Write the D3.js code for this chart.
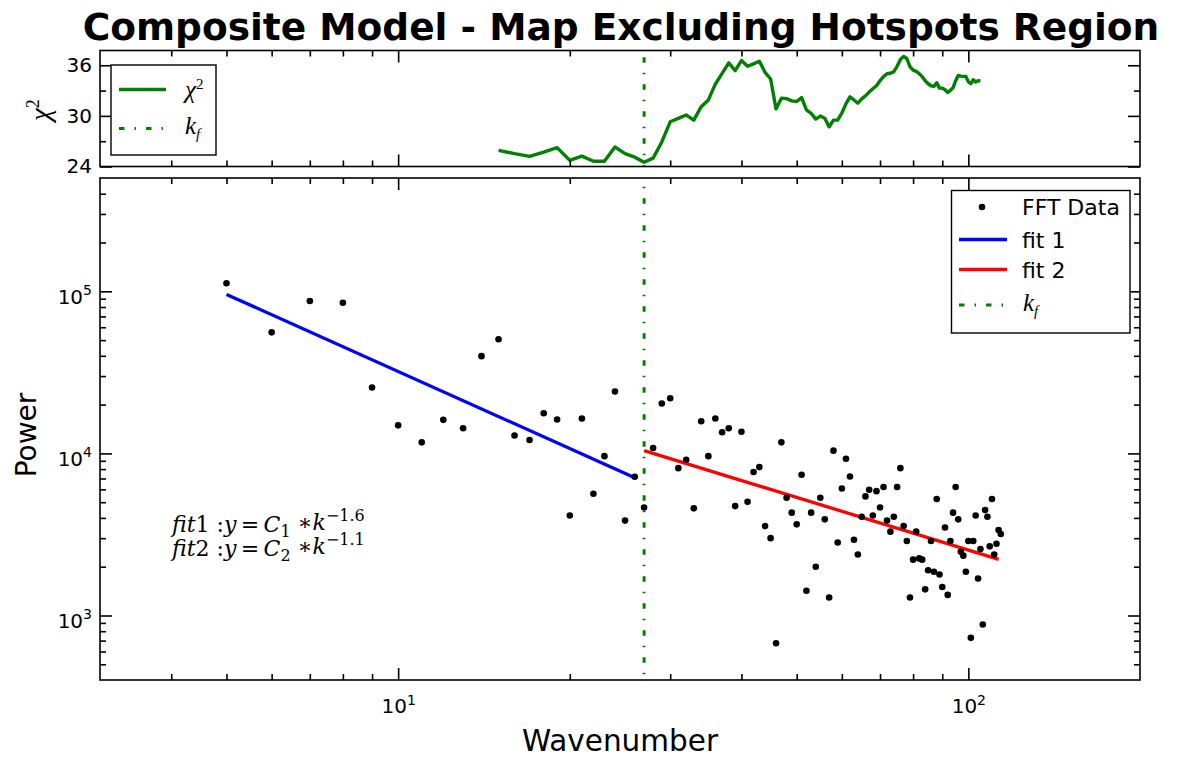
<!DOCTYPE html>
<html><head><meta charset="utf-8">
<script src="https://cdn.jsdelivr.net/npm/d3@7"></script>
<style>
body{margin:0;background:#fff}
svg{display:block}
text{font-family:"DejaVu Sans",sans-serif;fill:#000}
.serif{font-family:"Liberation Serif","DejaVu Serif",serif}
.dserif{font-family:"DejaVu Serif",serif}
</style>
</head><body>
<svg id="chart" width="1179" height="759"></svg>
<script>
// ---------------- data ----------------
const wavenumber = [5,6,7,8,9,10,11,12,13,14,15,16,17,18,19,20,21,22,23,24,25,26,27,28,29,30,
  31,32,33,34,35,36,37,38,39,40,41,42,43,44,45,46,47,48,49,50,51,52,53,54,55,56,57,58,59,60,
  61,62,63,64,65,66,67,68,69,70,71,72,73,74,75,76,77,78,79,80,81,82,83,84,85,86,87,88,89,90,
  91,92,93,94,95,96,97,98,99,100,101,102,103,104,105,106,107,108,109,110,111,112,113,114];
const power = [112000,55800,87100,85000,25500,14900,11700,16100,14300,39800,50600,12900,12100,17700,16200,4140,16400,5640,9620,24100,3850,7180,4640,10800,20300,21900,
  8110,9140,4580,15800,9620,16400,13500,14300,4730,13600,5030,7670,8230,3560,3000,674,11700,5330,4310,3650,7390,1420,4310,2000,5330,3920,1290,10400,2820,6080,
  9270,7210,2930,2380,4070,5430,5970,4140,5850,4640,6200,3850,3290,4070,6200,8110,3560,2880,1290,2210,3300,2250,2210,1450,1900,2880,1860,5230,1790,1500,
  3490,1340,2880,4310,6200,3920,2470,2340,1860,2880,728,2880,4140,1690,2570,880,4470,4070,2670,5230,2380,2770,3370,3180];
const chiK = [15,16,17,18,19,20,21,22,23,24,25,26,27,28,29,30,31,32,33,34,35,36,37,38,39,40,
  41,42,43,44,45,46,47,48,49,50,51,52,53,54,55,56,57,58,59,60,61,62,63,64,65,66,67,68,69,70,
  71,72,73,74,75,76,77,78,79,80,81,82,83,84,85,86,87,88,89,90,91,92,93,94,95,96,97,98,99,100,
  101,102,103,104,105];
const chi2 = [25.91,25.52,25.20,25.71,26.24,24.72,25.23,24.63,24.63,26.31,25.52,25.11,24.51,24.99,26.91,29.30,29.70,30.10,29.50,31.09,31.89,33.77,35.04,36.28,35.36,36.56,
  35.88,36.17,36.48,35.16,34.37,30.82,32.10,32.05,31.78,31.70,32.17,30.70,30.30,29.62,29.98,29.71,28.70,29.50,29.50,30.34,31.42,32.25,31.89,31.50,32.01,32.37,32.82,33.21,33.57,34.17,
  34.65,35.00,35.06,35.24,35.88,36.68,37.04,36.80,35.84,35.42,35.28,35.00,34.65,34.17,33.81,33.57,33.49,33.93,33.29,33.29,33.09,32.77,33.03,33.33,34.17,34.80,34.71,34.68,34.68,34.05,
  33.81,34.29,34.01,34.17,34.11];
const kf = 27;
const fit1K = [5, 26];
const fit1P = [95700, 7080];
const fit2K = [27, 113];
const fit2P = [10400, 2220];
const xMajorTicks = [10, 100];
const xMinorTicks = [4,5,6,7,8,9,20,30,40,50,60,70,80,90];
const yMajorTicks = [1000, 10000, 100000];
const yMinorTicks = [500,600,700,800,900,2000,3000,4000,5000,6000,7000,8000,9000,
  20000,30000,40000,50000,60000,70000,80000,90000,200000,300000,400000];
const chiMajorTicks = [24, 30, 36];
const chiMinorTicks = [27, 33];

// ---------------- layout ----------------
const L = 100, R = 1140;
const T1 = 50.5, B1 = 166.5;   // chi2 panel
const T2 = 178, B2 = 680;      // main panel
const GREEN = "#008000";
const DASH = "5.5,10,1.5,10";

const svg = d3.select("#chart");
svg.append("rect").attr("width",1179).attr("height",759).attr("fill","#fff");

const x = d3.scaleLog().domain([3, 200]).range([L, R]);
const yP = d3.scaleLog().domain([400, 500000]).range([B2, T2]);
const yC = d3.scaleLinear().domain([24, 37.75]).range([B1, T1]);

// ---------------- helpers ----------------
function styleAxis(g){
  g.select(".domain").remove();
  g.selectAll(".tick line").attr("stroke","#000").attr("stroke-width",1.6);
  g.selectAll(".tick text").attr("fill","#000").attr("font-size","20px")
   .attr("font-family","DejaVu Sans, sans-serif");
}
function tickSet(axisFn, scale, values, len, tx, ty, labels){
  const a = axisFn(scale).tickValues(values).tickSize(-len);
  if(!labels) a.tickFormat("");
  const g = svg.append("g").attr("transform",`translate(${tx},${ty})`).call(a);
  styleAxis(g);
  return g;
}
function powTen(g){
  g.selectAll(".tick text").each(function(d){
    const e = Math.round(Math.log10(d));
    const t = d3.select(this);
    t.text(null);
    t.append("tspan").text("10");
    t.append("tspan").attr("dy","-0.62em").attr("font-size","14px").text(e);
  });
}

// ---------------- chi2 panel ----------------
svg.append("path")
  .datum(chiK.map((k,i)=>[k,chi2[i]]))
  .attr("fill","none").attr("stroke",GREEN).attr("stroke-width",3.4).attr("stroke-linejoin","round")
  .attr("d", d3.line().x(d=>x(d[0])).y(d=>yC(d[1])));

svg.append("line").attr("x1",x(kf)).attr("x2",x(kf)).attr("y1",T1).attr("y2",B1)
  .attr("stroke",GREEN).attr("stroke-width",3).attr("stroke-dasharray",DASH).attr("stroke-dashoffset",20.25);

// ticks chi panel
tickSet(d3.axisBottom, x, xMajorTicks, 12, 0, B1, false);
tickSet(d3.axisBottom, x, xMinorTicks, 6, 0, B1, false);
tickSet(d3.axisTop, x, xMajorTicks, 12, 0, T1, false);
tickSet(d3.axisTop, x, xMinorTicks, 6, 0, T1, false);
const gcl = tickSet(d3.axisLeft, yC, chiMajorTicks, 12, L, 0, true);
gcl.call(a=>a.selectAll(".tick text").attr("x",-8));
tickSet(d3.axisLeft, yC, chiMinorTicks, 6, L, 0, false);
tickSet(d3.axisRight, yC, chiMajorTicks, 12, R, 0, false);
tickSet(d3.axisRight, yC, chiMinorTicks, 6, R, 0, false);

svg.append("rect").attr("x",L).attr("y",T1).attr("width",R-L).attr("height",B1-T1)
  .attr("fill","none").attr("stroke","#000").attr("stroke-width",1.6);

// chi2 legend
const lg1 = svg.append("g");
lg1.append("rect").attr("x",111).attr("y",65).attr("width",105).attr("height",90)
  .attr("fill","#fff").attr("stroke","#000").attr("stroke-width",1.4);
lg1.append("line").attr("x1",119).attr("x2",166).attr("y1",89.5).attr("y2",89.5)
  .attr("stroke",GREEN).attr("stroke-width",3.4);
lg1.append("line").attr("x1",119).attr("x2",166).attr("y1",128.5).attr("y2",128.5)
  .attr("stroke",GREEN).attr("stroke-width",3).attr("stroke-dasharray",DASH);
const t1 = lg1.append("text").attr("class","serif").attr("x",185).attr("y",98).attr("font-size","25px");
t1.append("tspan").attr("font-style","italic").text("χ");
t1.append("tspan").attr("dy","-0.6em").attr("font-size","15px").text("2");
const t2 = lg1.append("text").attr("class","serif").attr("x",185).attr("y",134).attr("font-size","25px");
t2.append("tspan").attr("font-style","italic").text("k");
t2.append("tspan").attr("font-style","italic").attr("dy","0.3em").attr("font-size","15px").text("f");

// chi2 y label
const cyl = svg.append("text").attr("class","serif")
  .attr("transform","translate(50,110) rotate(-90)").attr("text-anchor","middle").attr("font-size","29px");
cyl.append("tspan").attr("font-style","italic").text("χ");
cyl.append("tspan").attr("dy","-0.6em").attr("font-size","18px").text("2");

// ---------------- main panel ----------------
// fit lines
svg.append("path").datum(fit1K.map((k,i)=>[k,fit1P[i]]))
  .attr("fill","none").attr("stroke","#0000ff").attr("stroke-width",3.3)
  .attr("d", d3.line().x(d=>x(d[0])).y(d=>yP(d[1])));
svg.append("path").datum(fit2K.map((k,i)=>[k,fit2P[i]]))
  .attr("fill","none").attr("stroke","#ff0000").attr("stroke-width",3.3)
  .attr("d", d3.line().x(d=>x(d[0])).y(d=>yP(d[1])));

svg.append("line").attr("x1",x(kf)).attr("x2",x(kf)).attr("y1",T2).attr("y2",B2)
  .attr("stroke",GREEN).attr("stroke-width",3).attr("stroke-dasharray",DASH).attr("stroke-dashoffset",6.75);

// scatter
svg.append("g").selectAll("circle").data(wavenumber.map((k,i)=>[k,power[i]])).join("circle")
  .attr("cx",d=>x(d[0])).attr("cy",d=>yP(d[1])).attr("r",3.3).attr("fill","#000");

// ticks main
const gxb = tickSet(d3.axisBottom, x, xMajorTicks, 12, 0, B2, true);
gxb.selectAll(".tick text").attr("y",19);
powTen(gxb);
tickSet(d3.axisBottom, x, xMinorTicks, 6, 0, B2, false);
tickSet(d3.axisTop, x, xMajorTicks, 12, 0, T2, false);
tickSet(d3.axisTop, x, xMinorTicks, 6, 0, T2, false);
const gyl = tickSet(d3.axisLeft, yP, yMajorTicks, 12, L, 0, true);
gyl.selectAll(".tick text").attr("x",-8).attr("dy","0.6em");
powTen(gyl);
tickSet(d3.axisLeft, yP, yMinorTicks, 6, L, 0, false);
tickSet(d3.axisRight, yP, yMajorTicks, 12, R, 0, false);
tickSet(d3.axisRight, yP, yMinorTicks, 6, R, 0, false);

svg.append("rect").attr("x",L).attr("y",T2).attr("width",R-L).attr("height",B2-T2)
  .attr("fill","none").attr("stroke","#000").attr("stroke-width",1.6);

// main legend
const lg2 = svg.append("g");
lg2.append("rect").attr("x",951.5).attr("y",190.5).attr("width",178.5).attr("height",142.5)
  .attr("fill","#fff").attr("stroke","#000").attr("stroke-width",1.4);
lg2.append("circle").attr("cx",982).attr("cy",207).attr("r",3.3).attr("fill","#000");
lg2.append("text").attr("x",1022).attr("y",215).attr("font-size","22px").text("FFT Data");
lg2.append("line").attr("x1",959).attr("x2",1007).attr("y1",239.5).attr("y2",239.5)
  .attr("stroke","#0000ff").attr("stroke-width",3.3);
lg2.append("text").attr("x",1022).attr("y",247.5).attr("font-size","22px").text("fit 1");
lg2.append("line").attr("x1",959).attr("x2",1007).attr("y1",269.5).attr("y2",269.5)
  .attr("stroke","#ff0000").attr("stroke-width",3.3);
lg2.append("text").attr("x",1022).attr("y",277.5).attr("font-size","22px").text("fit 2");
lg2.append("line").attr("x1",959).attr("x2",1007).attr("y1",305).attr("y2",305)
  .attr("stroke",GREEN).attr("stroke-width",3).attr("stroke-dasharray",DASH);
const t3 = lg2.append("text").attr("class","serif").attr("x",1023).attr("y",311).attr("font-size","25px");
t3.append("tspan").attr("font-style","italic").text("k");
t3.append("tspan").attr("font-style","italic").attr("dy","0.3em").attr("font-size","15px").text("f");

// annotation
function fitText(yb, n, c, ex){
  const t = svg.append("text").attr("class","dserif").attr("x",172).attr("y",yb).attr("font-size","22px");
  t.append("tspan").attr("font-style","italic").text("fit");
  t.append("tspan").text(n + " :");
  t.append("tspan").attr("font-style","italic").text("y");
  t.append("tspan").text("\u2009=\u2009");
  t.append("tspan").attr("font-style","italic").text("C");
  t.append("tspan").attr("dy","0.3em").attr("font-size","16px").text(c);
  t.append("tspan").attr("dy","-0.3em").text(" ∗");
  t.append("tspan").attr("font-style","italic").text("k");
  t.append("tspan").attr("dy","-0.6em").attr("font-size","16px").text(ex);
}
fitText(532, "1", "1", "−1.6");
fitText(556, "2", "2", "−1.1");

// axis labels & title
svg.append("text").attr("x",620).attr("y",751).attr("text-anchor","middle").attr("font-size","29.5px").text("Wavenumber");
svg.append("text").attr("transform","translate(36,435) rotate(-90)").attr("text-anchor","middle")
  .attr("font-size","28px").text("Power");
svg.append("text").attr("x",621).attr("y",40).attr("text-anchor","middle").attr("font-size","37.5px")
  .attr("font-weight","bold").text("Composite Model - Map Excluding Hotspots Region");
</script>
</body></html>
